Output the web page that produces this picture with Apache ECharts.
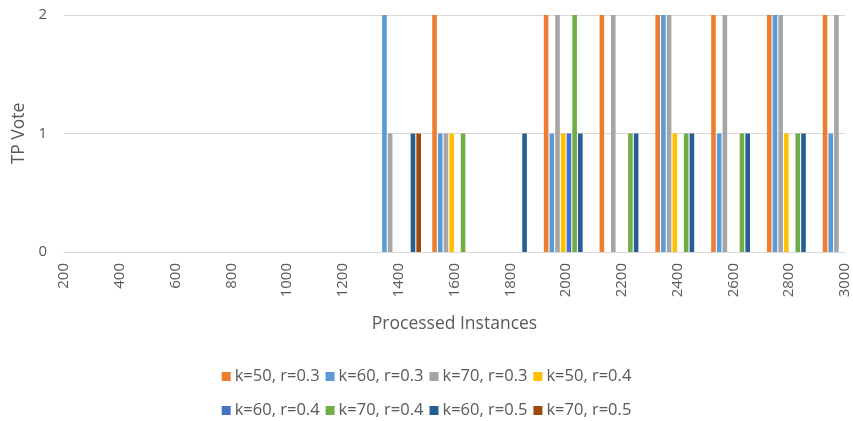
<!DOCTYPE html>
<html>
<head>
<meta charset="utf-8">
<script src="https://cdn.jsdelivr.net/npm/echarts@6/dist/echarts.min.js"></script>
<style>
  html, body { margin: 0; padding: 0; background: #fff; }
  #chart { width: 853px; height: 421px; }
</style>
</head>
<body>
<div id="chart"></div>
<script>
// Processed-instance checkpoints on the x axis
const categories = ['200', '400', '600', '800', '1000', '1200', '1400', '1600', '1800', '2000', '2200', '2400', '2600', '2800', '3000'];

// TP votes per parameter setting at each checkpoint
const k50r03 = [0, 0, 0, 0, 0, 0, 0, 2, 0, 2, 2, 2, 2, 2, 2];
const k60r03 = [0, 0, 0, 0, 0, 0, 2, 1, 0, 1, 0, 2, 1, 2, 1];
const k70r03 = [0, 0, 0, 0, 0, 0, 1, 1, 0, 2, 2, 2, 2, 2, 2];
const k50r04 = [0, 0, 0, 0, 0, 0, 0, 1, 0, 1, 0, 1, 0, 1, 0];
const k60r04 = [0, 0, 0, 0, 0, 0, 0, 0, 0, 1, 0, 0, 0, 0, 0];
const k70r04 = [0, 0, 0, 0, 0, 0, 0, 1, 0, 2, 1, 1, 1, 1, 0];
const k60r05 = [0, 0, 0, 0, 0, 0, 1, 0, 1, 1, 1, 1, 1, 1, 0];
const k70r05 = [0, 0, 0, 0, 0, 0, 1, 0, 0, 0, 0, 0, 0, 0, 0];

const yTicks = [0, 1, 2];

const seriesDefs = [
  { name: 'k=50, r=0.3', data: k50r03, color: '#ED7D31' },
  { name: 'k=60, r=0.3', data: k60r03, color: '#5B9BD5' },
  { name: 'k=70, r=0.3', data: k70r03, color: '#A5A5A5' },
  { name: 'k=50, r=0.4', data: k50r04, color: '#FFC000' },
  { name: 'k=60, r=0.4', data: k60r04, color: '#4472C4' },
  { name: 'k=70, r=0.4', data: k70r04, color: '#70AD47' },
  { name: 'k=60, r=0.5', data: k60r05, color: '#255E91' },
  { name: 'k=70, r=0.5', data: k70r05, color: '#9E480E' }
];

const FONT = 'Open Sans';
const TXT = '#595959';

const chart = echarts.init(document.getElementById('chart'), null, { renderer: 'canvas' });

const legendCommon = {
  orient: 'horizontal',
  itemWidth: 9,
  itemHeight: 9,
  itemGap: 6,
  icon: 'rect',
  textStyle: { fontFamily: FONT, fontSize: 16.5, color: TXT, padding: [0, 0, 0, -1] },
  left: 'center'
};

chart.setOption({
  animation: false,
  backgroundColor: '#fff',
  grid: { left: 64, right: 8, top: 15, bottom: 169, containLabel: false },
  legend: [
    Object.assign({}, legendCommon, { top: 363, data: seriesDefs.slice(0, 4).map(s => s.name) }),
    Object.assign({}, legendCommon, { top: 397, data: seriesDefs.slice(4).map(s => s.name) })
  ],
  xAxis: {
    type: 'category',
    data: categories,
    boundaryGap: false,
    name: 'Processed Instances',
    nameLocation: 'middle',
    nameGap: 63,
    nameTextStyle: { fontFamily: FONT, fontSize: 17.5, color: TXT },
    axisLine: { show: true, lineStyle: { color: '#D9D9D9', width: 1 } },
    axisTick: { show: false },
    splitLine: { show: false },
    axisLabel: {
      interval: 0,
      rotate: 90,
      margin: 11,
      fontFamily: FONT,
      fontSize: 15,
      color: TXT
    }
  },
  yAxis: {
    type: 'value',
    min: yTicks[0],
    max: yTicks[yTicks.length - 1],
    interval: 1,
    name: 'TP Vote',
    nameLocation: 'middle',
    nameGap: 33,
    nameRotate: 90,
    nameTextStyle: { fontFamily: FONT, fontSize: 17.5, color: TXT },
    axisLine: { show: false },
    axisTick: { show: false },
    splitLine: { show: true, lineStyle: { color: '#D9D9D9', width: 1 } },
    axisLabel: { margin: 17, fontFamily: FONT, fontSize: 15, color: TXT }
  },
  series: seriesDefs.map(s => ({
    name: s.name,
    type: 'bar',
    data: s.data,
    barWidth: 4.6,
    barGap: '24%',
    clip: true,
    itemStyle: { color: s.color },
    emphasis: { disabled: true }
  }))
});
</script>
</body>
</html>
